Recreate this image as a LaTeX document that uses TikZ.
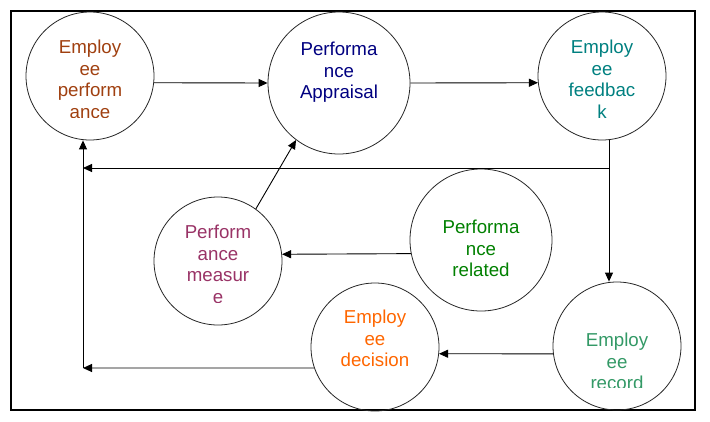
\documentclass[tikz,border=0pt]{standalone}
\usepackage{fontspec}
\setmainfont{Liberation Sans}
\usetikzlibrary{arrows.meta}
\definecolor{cA}{RGB}{160,64,16}
\definecolor{cB}{RGB}{0,0,128}
\definecolor{cC}{RGB}{0,128,128}
\definecolor{cD}{RGB}{153,51,102}
\definecolor{cE}{RGB}{0,128,0}
\definecolor{cF}{RGB}{255,102,0}
\definecolor{cG}{RGB}{51,153,102}
\newcommand\circlines[1]{\parbox[t]{140pt}{\centering\fontsize{18.7}{21.7}\selectfont #1}}
\begin{document}
\begin{tikzpicture}[x=1pt,y=-1pt,
  circ/.style={circle, draw=black!85, line width=0.8pt, minimum size=128pt, inner sep=0pt},
  bigcirc/.style={minimum size=142pt},
  lbl/.style={anchor=base, inner sep=0pt},
  arr/.style={-{Triangle[length=9pt,width=8pt]}, line width=0.9pt},
  ln/.style={line width=0.9pt}]
\useasboundingbox (0,0) rectangle (710,421);
\draw[line width=1.2pt] (11,11) rectangle (695,410);
% circles
\node[circ] (c1) at (90,76) {};
\node[circ,bigcirc] (c2) at (339,83) {};
\node[circ] (c3) at (602,76) {};
\node[circ] (c4) at (218,261) {};
\node[circ,bigcirc] (c5) at (481,240) {};
\node[circ] (c6) at (375,347) {};
\node[circ] (c7) at (617,346) {};
% texts (clipped like the original text boxes)
\begin{scope}\clip (30,35) rectangle (150,117);
\node[lbl,text=cA] (t1) at (90,53.5) {\circlines{Employ\\ee\\perform\\ance}};
\end{scope}
\node[lbl,text=cB] (t2) at (339,55.5) {\circlines{Performa\\nce\\Appraisal}};
\begin{scope}\clip (542,35) rectangle (662,117);
\node[lbl,text=cC] (t3) at (602,53.5) {\circlines{Employ\\ee\\feedbac\\k}};
\end{scope}
\begin{scope}\clip (158,220) rectangle (278,302);
\node[lbl,text=cD] (t4) at (218,238.5) {\circlines{Perform\\ance\\measur\\e}};
\end{scope}
\node[lbl,text=cE] (t5) at (481,233.5) {\circlines{Performa\\nce\\related}};
\node[lbl,text=cF] (t6) at (375,323.5) {\circlines{Employ\\ee\\decision}};
\begin{scope}\clip (557,305) rectangle (677,387);
\node[lbl,text=cG] (t7) at (617,346.5) {\circlines{Employ\\ee\\record}};
\end{scope}
% junction points
\coordinate (j1) at (609,168);
\coordinate (j2) at (83,168);
\coordinate (j3) at (83,368);
% connectors
\draw[arr] (c1.354) -- (c2.west);
\draw[arr] (c2.east) -- (c3.186);
\draw[ln] (j1 |- c3.south) -- (j1);
\draw[arr] (j1) -- (j2);
\draw[arr] (j1) -- (j1 |- c7.north);
\draw[arr] (j3) -- (j3 |- c1.south);
\draw[arr] (c6.199) -- (j3);
\draw[arr] (c7.187) -- (c6.354);
\draw[arr] (c5.191.4) -- (c4.6);
\draw[arr] (c4.54) -- (c2.233);
\end{tikzpicture}
\end{document}
